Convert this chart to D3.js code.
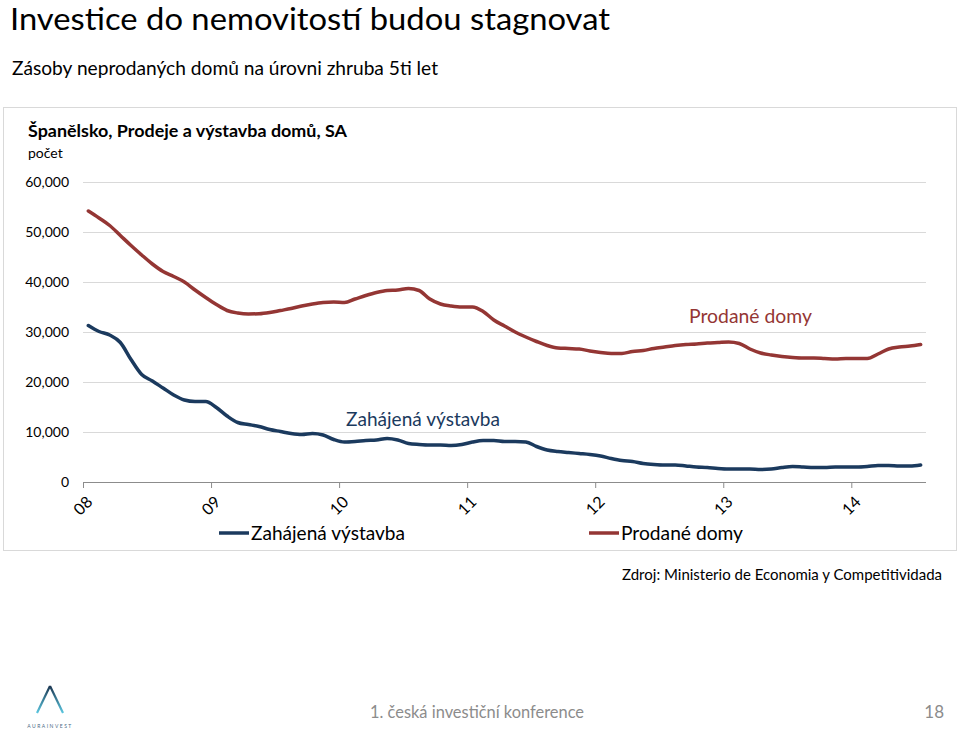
<!DOCTYPE html>
<html>
<head>
<meta charset="utf-8">
<script src="https://cdn.jsdelivr.net/npm/d3@7/dist/d3.min.js"></script>
<style>
  html, body { margin: 0; padding: 0; background: #fff; }
  svg { display: block; font-family: Lato, "Open Sans", sans-serif; }
</style>
</head>
<body>
<svg id="chart" width="960" height="734"></svg>
<script>
// ---- Data (monthly, Jan 2008 – Jul 2014) ----
const startMonth = new Date(2008, 0, 1);
const yearLabels = ["08", "09", "10", "11", "12", "13", "14"];
const yTicks = [0, 10000, 20000, 30000, 40000, 50000, 60000];

const prodaneDomy = [
  54200, 52800, 51300, 49300, 47300, 45400, 43600, 42100, 41100, 40000, 38400, 36900,
  35500, 34300, 33800, 33600, 33650, 33900, 34300, 34700, 35200, 35600, 35900, 36000,
  35900, 36600, 37300, 37900, 38300, 38400, 38700, 38300, 36600, 35600, 35200, 35000,
  35000, 34100, 32400, 31200, 30000, 29000, 28100, 27300, 26800, 26700, 26600, 26200,
  25900, 25700, 25700, 26100, 26300, 26700, 27000, 27300, 27500, 27600, 27800, 27900,
  28000, 27700, 26600, 25800, 25400, 25100, 24900, 24800, 24800, 24700, 24600, 24700,
  24700, 24700, 25600, 26600, 27000, 27200, 27500
];
const zahajenaVystavba = [
  31300, 30100, 29400, 27900, 24500, 21500, 20200, 18800, 17400, 16400, 16100, 16100,
  14900, 13200, 11900, 11500, 11100, 10500, 10100, 9700, 9500, 9700, 9400, 8500,
  8000, 8100, 8300, 8400, 8700, 8400, 7700, 7500, 7400, 7400, 7300, 7500,
  8000, 8300, 8300, 8100, 8100, 8000, 7100, 6400, 6100, 5900, 5700, 5500,
  5200, 4700, 4300, 4100, 3700, 3500, 3400, 3400, 3200, 3000, 2900, 2700,
  2600, 2600, 2600, 2500, 2600, 2900, 3100, 3000, 2900, 2900, 3000, 3000,
  3000, 3100, 3300, 3300, 3200, 3200, 3400
];
const months = d3.timeMonth.range(startMonth, d3.timeMonth.offset(startMonth, prodaneDomy.length));

const seriesNames = ["Zahájená výstavba", "Prodané domy"];
const seriesColors = ["#1b3a5e", "#943634"];

// ---- Layout ----
const svg = d3.select("#chart");
const W = 960, H = 734;
svg.append("rect").attr("width", W).attr("height", H).attr("fill", "#fff");

// Slide title & subtitle
svg.append("text").attr("x", 10).attr("y", 29.5)
  .attr("font-size", 30).attr("fill", "#000")
  .attr("textLength", 600).attr("lengthAdjust", "spacingAndGlyphs")
  .text("Investice do nemovitostí budou stagnovat");
svg.append("text").attr("x", 12).attr("y", 75)
  .attr("font-size", 19).attr("fill", "#000")
  .attr("textLength", 426).attr("lengthAdjust", "spacingAndGlyphs")
  .text("Zásoby neprodaných domů na úrovni zhruba 5ti let");

// Chart frame
svg.append("rect").attr("x", 3.5).attr("y", 107.5).attr("width", 953).attr("height", 443)
  .attr("fill", "#fff").attr("stroke", "#d9d9d9").attr("stroke-width", 1);

svg.append("text").attr("x", 28).attr("y", 137)
  .attr("font-size", 17).attr("font-weight", "bold").attr("fill", "#000")
  .attr("textLength", 319).attr("lengthAdjust", "spacingAndGlyphs")
  .text("Španělsko, Prodeje a výstavba domů, SA");
svg.append("text").attr("x", 28).attr("y", 158)
  .attr("font-size", 14).attr("fill", "#000")
  .text("počet");

// Scales
const x0 = 83, x1 = 926;
const xLin = d3.scaleLinear().domain([0, months.length]).range([x0, x1]);
const y = d3.scaleLinear().domain([0, 60000]).range([482, 182]);

// Gridlines + y labels
const yAxis = d3.axisLeft(y).tickValues(yTicks)
  .tickSize(-(x1 - x0)).tickPadding(14)
  .tickFormat(d => d === 0 ? "0" : d3.format(",")(d));
const gy = svg.append("g").attr("transform", `translate(${x0},0)`).call(yAxis);
gy.select(".domain").remove();
gy.selectAll(".tick line").attr("stroke", "#d9d9d9").attr("stroke-width", 1)
  .filter(d => d === 0).remove();
gy.selectAll(".tick text").attr("font-size", 14).attr("fill", "#000")
  .attr("font-family", "Lato, 'Open Sans', sans-serif");

// X axis
const yearIdx = yearLabels.map((_, i) => i * 12);
const xAxis = d3.axisBottom(xLin).tickValues(yearIdx).tickSize(6)
  .tickFormat((d, i) => yearLabels[i]);
const gx = svg.append("g").attr("transform", `translate(0,${y(0)})`).call(xAxis);
gx.select(".domain").attr("stroke", "#8c8c8c").attr("d", `M${x0},0.5H${x1}`);
gx.selectAll(".tick line").attr("stroke", "#8c8c8c");
gx.selectAll(".tick text")
  .attr("font-size", 16).attr("fill", "#000")
  .attr("font-family", "Lato, 'Open Sans', sans-serif")
  .attr("text-anchor", "end")
  .attr("dy", 0).attr("y", 0)
  .attr("transform", "translate(10,21) rotate(-45)");

// Lines
const line = d3.line()
  .x((d, i) => xLin(i + 0.5))
  .y(d => y(d))
  .curve(d3.curveMonotoneX);

[zahajenaVystavba, prodaneDomy].forEach((s, k) => {
  svg.append("path").datum(s)
    .attr("d", line)
    .attr("fill", "none")
    .attr("stroke", seriesColors[k])
    .attr("stroke-width", 3.5)
    .attr("stroke-linejoin", "round")
    .attr("stroke-linecap", "round");
});

// In-chart labels
svg.append("text").attr("x", 346).attr("y", 426)
  .attr("font-size", 19).attr("fill", seriesColors[0])
  .attr("textLength", 154).attr("lengthAdjust", "spacingAndGlyphs")
  .text(seriesNames[0]);
svg.append("text").attr("x", 689).attr("y", 323)
  .attr("font-size", 19).attr("fill", seriesColors[1])
  .attr("textLength", 123).attr("lengthAdjust", "spacingAndGlyphs")
  .text(seriesNames[1]);

// Legend
const legendPos = [219, 589];
const legendLen = [154, 122];
seriesNames.forEach((n, k) => {
  const g = svg.append("g").attr("transform", `translate(${legendPos[k]},533)`);
  g.append("line").attr("x1", 0).attr("x2", 30).attr("y1", 0).attr("y2", 0)
    .attr("stroke", seriesColors[k]).attr("stroke-width", 3.5);
  g.append("text").attr("x", 32).attr("y", 7)
    .attr("font-size", 19).attr("fill", "#000")
    .attr("textLength", legendLen[k]).attr("lengthAdjust", "spacingAndGlyphs")
    .text(n);
});

// Source
svg.append("text").attr("x", 622).attr("y", 580)
  .attr("font-size", 15).attr("fill", "#000")
  .attr("textLength", 320).attr("lengthAdjust", "spacingAndGlyphs")
  .text("Zdroj: Ministerio de Economia y Competitividada");

// Footer
svg.append("text").attr("x", 370).attr("y", 718)
  .attr("font-size", 17).attr("fill", "#8c8c8c")
  .attr("textLength", 214).attr("lengthAdjust", "spacingAndGlyphs")
  .text("1. česká investiční konference");
svg.append("text").attr("x", 944).attr("y", 718)
  .attr("font-size", 17).attr("fill", "#8c8c8c").attr("text-anchor", "end")
  .text("18");

// Logo
const defs = svg.append("defs");
const grad = defs.append("linearGradient").attr("id", "logoGrad")
  .attr("x1", 0).attr("y1", 0).attr("x2", 0).attr("y2", 1);
grad.append("stop").attr("offset", "0%").attr("stop-color", "#1b3550");
grad.append("stop").attr("offset", "100%").attr("stop-color", "#5bc7e0");
svg.append("path")
  .attr("d", "M50,686 L37,713 M50,686 L63,713")
  .attr("stroke", "url(#logoGrad)").attr("stroke-width", 2.2).attr("fill", "none");
svg.append("text").attr("x", 50).attr("y", 728)
  .attr("font-size", 5).attr("fill", "#4a6a85").attr("text-anchor", "middle")
  .attr("letter-spacing", 1.5)
  .text("AURAINVEST");
</script>
</body>
</html>
